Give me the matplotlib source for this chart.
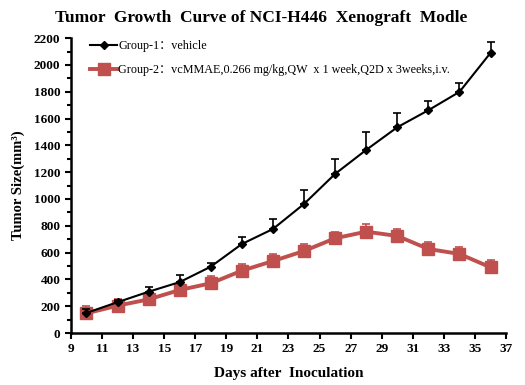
import matplotlib.pyplot as plt
from matplotlib.lines import Line2D
import numpy as np

# Days after inoculation
days = [10, 12, 14, 16, 18, 20, 22, 24, 26, 28, 30, 32, 34, 36]

# Group-1: vehicle
g1_mean = [150, 230, 308, 380, 495, 664, 776, 963, 1187, 1366, 1535, 1662, 1799, 2090]
g1_err = [30, 20, 35, 53, 30, 50, 72, 104, 110, 130, 105, 70, 65, 80]

# Group-2: vcMMAE
g2_mean = [147, 204, 251, 321, 371, 465, 537, 612, 707, 756, 724, 627, 590, 490]
g2_err = [55, 50, 25, 30, 55, 48, 50, 55, 50, 55, 50, 50, 50, 53]

g1_label = 'Group-1\uff1avehicle'
g2_label = 'Group-2\uff1avcMMAE,0.266 mg/kg,QW  x 1 week,Q2D x 3weeks,i.v.'

serif = ['Liberation Serif', 'Noto Sans CJK SC']
plt.rcParams['font.family'] = serif

fig = plt.figure(figsize=(5.25, 3.85), dpi=100)
ax = fig.add_axes([0.135, 0.135, 0.829, 0.766])

red = '#C0504D'
ax.errorbar(days, g2_mean, yerr=[np.zeros(len(g2_err)), g2_err], color=red, lw=2.8,
            marker='s', ms=9, ecolor=red, elinewidth=1.2, capsize=3, capthick=1.2,
            zorder=2)
ax.errorbar(days, g1_mean, yerr=[np.zeros(len(g1_err)), g1_err], color='black', lw=1.5,
            marker='D', ms=4.5, ecolor='black', elinewidth=1.2, capsize=3, capthick=1.2,
            zorder=3)

ax.set_xlim(9, 37)
ax.set_ylim(0, 2200)
ax.set_xticks(range(9, 38, 2))
ax.set_yticks(range(0, 2201, 200))
ax.set_yticks(range(100, 2200, 200), minor=True)
for lab in ax.get_xticklabels() + ax.get_yticklabels():
    lab.set_fontweight('bold')
    lab.set_fontsize(9.5)
ax.tick_params(direction='out', width=1.5, length=4)
ax.tick_params(which='minor', direction='out', width=1.5, length=3)

for s in ['top', 'right']:
    ax.spines[s].set_visible(False)
for s in ['left', 'bottom']:
    ax.spines[s].set_linewidth(1.8)

ax.set_xlabel('Days after  Inoculation', fontsize=11, fontweight='bold', labelpad=8)
ax.set_ylabel('Tumor Size(mm\u00b3)', fontsize=10.5, fontweight='bold', labelpad=6)
fig.suptitle('Tumor  Growth  Curve of NCI-H446  Xenograft  Modle', fontsize=12.5,
             fontweight='bold', x=0.497, y=0.975)

handles = [Line2D([], [], color='black', lw=1.5, marker='D', ms=4.5),
           Line2D([], [], color=red, lw=2.8, marker='s', ms=9)]
ax.legend(handles, [g1_label, g2_label], loc='upper left', frameon=False, fontsize=8.7,
          bbox_to_anchor=(0.02, 1.03), handlelength=2.2, handletextpad=0.1,
          labelspacing=1.0)

fig.savefig('out.png', dpi=100)
